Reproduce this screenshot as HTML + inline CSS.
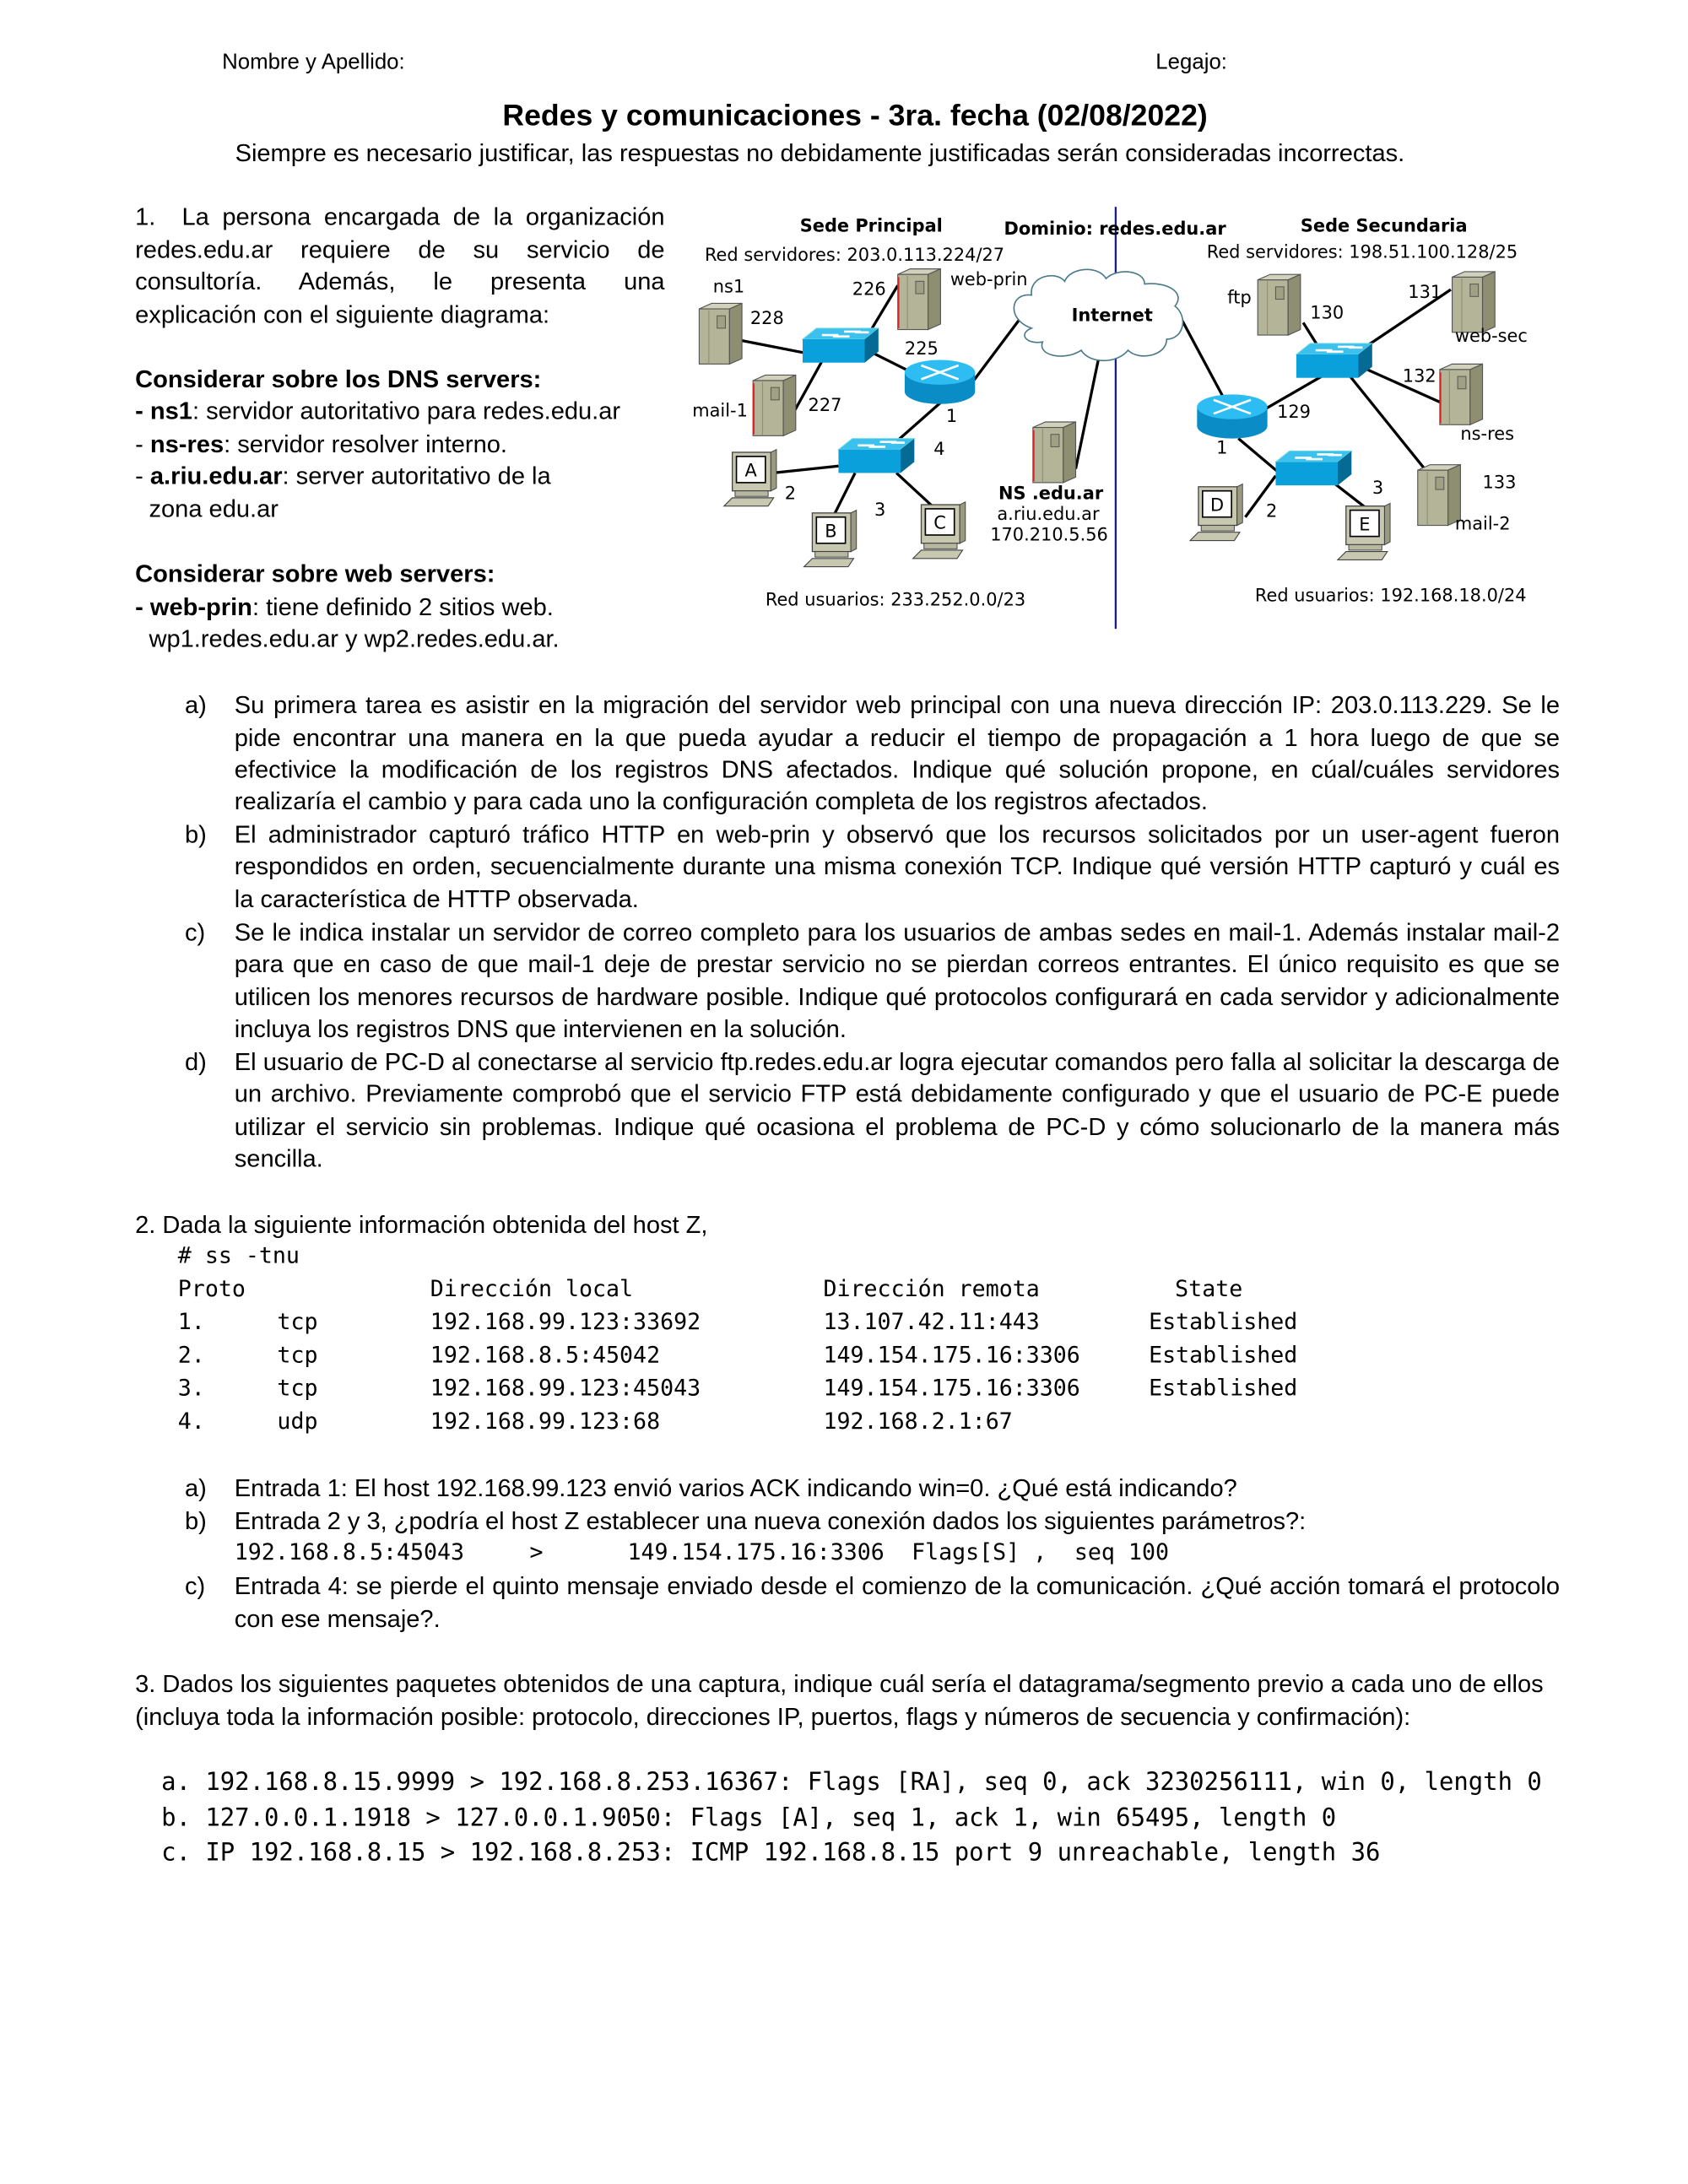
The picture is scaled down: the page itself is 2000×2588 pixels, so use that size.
<!DOCTYPE html>
<html><head><meta charset="utf-8"><style>
html,body{margin:0;padding:0;background:#fff;}
body{width:2000px;height:2588px;overflow:hidden;position:relative;}
#p{position:absolute;left:0;top:0;width:1224px;height:1584px;transform:scale(1.63399);transform-origin:0 0;font-family:"Liberation Sans",Arial,sans-serif;color:#000;}
.l{position:absolute;white-space:nowrap;font-size:17.8px;line-height:20px;}
.j{text-align:justify;text-align-last:justify;white-space:normal;height:20px;}
.m{font-family:"DejaVu Sans Mono","Liberation Mono",monospace;font-size:16.3px;}
.m2{font-family:"DejaVu Sans Mono","Liberation Mono",monospace;font-size:17.7px;}
svg text{font-family:"DejaVu Sans",sans-serif;font-size:12.8px;}
</style></head><body><div id="p">
<div class="l" style="left:161px;top:36px;font-size:15.8px">Nombre y Apellido:</div>
<div class="l" style="left:838px;top:36px;font-size:15.8px">Legajo:</div>
<div class="l" style="left:0;width:1240px;text-align:center;top:72px;font-size:21.8px;line-height:24px;font-weight:bold">Redes y comunicaciones - 3ra. fecha (02/08/2022)</div>
<div class="l" style="left:0;width:1189px;text-align:center;top:101px">Siempre es necesario justificar, las respuestas no debidamente justificadas serán consideradas incorrectas.</div>

<div class="l j" style="left:98px;width:384px;top:147px">1.&nbsp; La persona encargada de la organización</div>
<div class="l j" style="left:98px;width:384px;top:171px">redes.edu.ar requiere de su servicio de</div>
<div class="l j" style="left:98px;width:384px;top:194px">consultoría. Además, le presenta una</div>
<div class="l" style="left:98px;top:218px">explicación con el siguiente diagrama:</div>
<div class="l" style="left:98px;top:265px;font-weight:bold">Considerar sobre los DNS servers:</div>
<div class="l" style="left:98px;top:288px"><b>- ns1</b>: servidor autoritativo para redes.edu.ar</div>
<div class="l" style="left:98px;top:312px">- <b>ns-res</b>: servidor resolver interno.</div>
<div class="l" style="left:98px;top:335px">- <b>a.riu.edu.ar</b>: server autoritativo de la</div>
<div class="l" style="left:108px;top:359px">zona edu.ar</div>
<div class="l" style="left:98px;top:406px;font-weight:bold">Considerar sobre web servers:</div>
<div class="l" style="left:98px;top:430px"><b>- web-prin</b>: tiene definido 2 sitios web.</div>
<div class="l" style="left:108px;top:453px">wp1.redes.edu.ar y wp2.redes.edu.ar.</div>

<svg style="position:absolute;left:0;top:0" width="1224" height="600" viewBox="0 0 1224 600">
<defs>
<g id="srv"><polygon points="0,4 9,0 31,0 22,4" fill="#d2d2bc" stroke="#555" stroke-width="0.7"/><rect x="0" y="4" width="22" height="40" fill="#b4b498" stroke="#555" stroke-width="0.7"/><polygon points="22,4 31,0 31,40 22,44" fill="#8e8e70" stroke="#555" stroke-width="0.7"/><rect x="13" y="9" width="6" height="9" fill="#a0a084" stroke="#555" stroke-width="0.6"/><line x1="7" y1="5" x2="7" y2="44" stroke="#8a8a70" stroke-width="0.6"/></g>
<g id="srvr"><use href="#srv"/><line x1="0.5" y1="6" x2="0.5" y2="43" stroke="#d22" stroke-width="1.2"/></g>
<g id="pc"><rect x="6" y="0" width="28" height="28" fill="#c8c8b0" stroke="#444" stroke-width="0.8"/><polygon points="34,0 38,-2 38,26 34,28" fill="#9a9a80" stroke="#444" stroke-width="0.6"/><rect x="9" y="3" width="21" height="19" fill="#fff" stroke="#000" stroke-width="1"/><rect x="8" y="28" width="24" height="4" fill="#b8b8a0" stroke="#444" stroke-width="0.6"/><polygon points="0,39 6,33 36,33 32,39" fill="#c8c8b0" stroke="#444" stroke-width="0.7"/></g>
<g id="sw"><polygon points="0,8 10,0 55,0 45,8" fill="#3cc0ee" stroke="#7dd" stroke-width="0.6"/><rect x="0" y="8" width="45" height="17" fill="#0aa0dc"/><polygon points="45,8 55,0 55,17 45,25" fill="#066b94"/><g stroke="#fff" stroke-width="1.6"><line x1="14" y1="5" x2="26" y2="5"/><line x1="30" y1="2.5" x2="42" y2="2.5"/><line x1="22" y1="6" x2="34" y2="6"/><line x1="38" y1="3" x2="48" y2="3"/></g></g>
<g id="rt"><rect x="0" y="9" width="51" height="14" fill="#0a8cc6"/><ellipse cx="25.5" cy="23" rx="25.5" ry="9" fill="#0a8cc6"/><ellipse cx="25.5" cy="9" rx="25.5" ry="9" fill="#2dbdf2"/><g stroke="#fff" stroke-width="1.6"><line x1="12" y1="4" x2="39" y2="14"/><line x1="12" y1="14" x2="39" y2="4"/></g></g>
</defs>
<line x1="809" y1="150" x2="809" y2="456" stroke="#1a1aa0" stroke-width="1.4"/>
<g stroke="#000" stroke-width="2">
<line x1="538" y1="247" x2="584" y2="256"/><line x1="630" y1="242" x2="651" y2="207"/><line x1="596" y1="262" x2="575" y2="300"/><line x1="633" y1="256" x2="665" y2="272"/>
<line x1="682" y1="292" x2="648" y2="322"/><line x1="608" y1="338" x2="560" y2="343"/><line x1="620" y1="343" x2="600" y2="383"/><line x1="650" y1="343" x2="676" y2="367"/>
<line x1="706" y1="276" x2="742" y2="228"/><line x1="797" y1="258" x2="780" y2="340"/><line x1="857" y1="232" x2="887" y2="288"/>
<line x1="955" y1="250" x2="945" y2="234"/><line x1="985" y1="255" x2="1052" y2="210"/><line x1="978" y1="262" x2="1045" y2="292"/><line x1="975" y1="268" x2="1033" y2="340"/><line x1="960" y1="272" x2="915" y2="298"/>
<line x1="898" y1="318" x2="930" y2="345"/><line x1="925" y1="345" x2="903" y2="375"/><line x1="963" y1="347" x2="990" y2="368"/>
</g>
<path d="M748,238 C730,232 732,212 748,214 C746,200 766,196 772,204 C776,194 796,192 802,202 C810,194 830,196 830,206 C846,204 860,212 852,222 C862,230 858,246 846,246 C846,258 826,262 818,254 C810,264 790,264 784,254 C772,262 752,258 756,248 C744,250 738,242 748,238 Z" fill="#fff" stroke="#4a7a8a" stroke-width="1"/>
<use href="#srv" x="507" y="220"/><use href="#srvr" x="651" y="195"/><use href="#srvr" x="546" y="272"/><use href="#srvr" x="749" y="306"/>
<use href="#srv" x="912" y="199"/><use href="#srv" x="1053" y="197"/><use href="#srvr" x="1044" y="264"/><use href="#srv" x="1028" y="337"/>
<use href="#sw" x="582" y="238"/><use href="#sw" x="608" y="318"/><use href="#sw" x="940" y="249"/><use href="#sw" x="925" y="327"/>
<use href="#rt" x="656" y="261"/><use href="#rt" x="868" y="286"/>
<use href="#pc" x="525" y="328"/><use href="#pc" x="583" y="372"/><use href="#pc" x="662" y="366"/><use href="#pc" x="863" y="353"/><use href="#pc" x="970" y="367"/>
<g font-size="13" text-anchor="middle">
<text x="544.5" y="345.5">A</text><text x="602.5" y="389.5">B</text><text x="681.5" y="383.5">C</text><text x="882.5" y="370.5">D</text><text x="989.5" y="384.5">E</text>
</g>
<g font-weight="bold"><text x="580" y="168">Sede Principal</text><text x="728" y="170">Dominio: redes.edu.ar</text><text x="943" y="168">Sede Secundaria</text><text x="777" y="233">Internet</text><text x="724" y="362">NS .edu.ar</text></g>
<text x="511" y="189">Red servidores: 203.0.113.224/27</text><text x="875" y="187">Red servidores: 198.51.100.128/25</text>
<text x="517" y="212">ns1</text><text x="544" y="235">228</text><text x="618" y="214">226</text><text x="689" y="207">web-prin</text><text x="656" y="257">225</text>
<text x="502" y="302">mail-1</text><text x="586" y="298">227</text><text x="686" y="306">1</text><text x="677" y="330">4</text><text x="569" y="362">2</text><text x="634" y="374">3</text>
<text x="723" y="377">a.riu.edu.ar</text><text x="718" y="392">170.210.5.56</text>
<text x="890" y="220">ftp</text><text x="950" y="231">130</text><text x="1021" y="216">131</text><text x="1055" y="248">web-sec</text><text x="1017" y="277">132</text><text x="1059" y="319">ns-res</text>
<text x="926" y="303">129</text><text x="882" y="329">1</text><text x="918" y="375">2</text><text x="995" y="358">3</text><text x="1075" y="354">133</text><text x="1055" y="384">mail-2</text>
<text x="555" y="439">Red usuarios: 233.252.0.0/23</text><text x="910" y="436">Red usuarios: 192.168.18.0/24</text>
</svg>

<div class="l" style="left:134px;top:501px">a)</div>
<div class="l j" style="left:170px;width:961px;top:501px">Su primera tarea es asistir en la migración del servidor web principal con una nueva dirección IP: 203.0.113.229. Se le</div>
<div class="l j" style="left:170px;width:961px;top:525px">pide encontrar una manera en la que pueda ayudar a reducir el tiempo de propagación a 1 hora luego de que se</div>
<div class="l j" style="left:170px;width:961px;top:548px">efectivice la modificación de los registros DNS afectados. Indique qué solución propone, en cúal/cuáles servidores</div>
<div class="l" style="left:170px;top:571px">realizaría el cambio y para cada uno la configuración completa de los registros afectados.</div>
<div class="l" style="left:134px;top:595px">b)</div>
<div class="l j" style="left:170px;width:961px;top:595px">El administrador capturó tráfico HTTP en web-prin y observó que los recursos solicitados por un user-agent fueron</div>
<div class="l j" style="left:170px;width:961px;top:618px">respondidos en orden, secuencialmente durante una misma conexión TCP. Indique qué versión HTTP capturó y cuál es</div>
<div class="l" style="left:170px;top:642px">la característica de HTTP observada.</div>
<div class="l" style="left:134px;top:666px">c)</div>
<div class="l j" style="left:170px;width:961px;top:666px">Se le indica instalar un servidor de correo completo para los usuarios de ambas sedes en mail-1. Además instalar mail-2</div>
<div class="l j" style="left:170px;width:961px;top:689px">para que en caso de que mail-1 deje de prestar servicio no se pierdan correos entrantes. El único requisito es que se</div>
<div class="l j" style="left:170px;width:961px;top:713px">utilicen los menores recursos de hardware posible. Indique qué protocolos configurará en cada servidor y adicionalmente</div>
<div class="l" style="left:170px;top:736px">incluya los registros DNS que intervienen en la solución.</div>
<div class="l" style="left:134px;top:760px">d)</div>
<div class="l j" style="left:170px;width:961px;top:760px">El usuario de PC-D al conectarse al servicio ftp.redes.edu.ar logra ejecutar comandos pero falla al solicitar la descarga de</div>
<div class="l j" style="left:170px;width:961px;top:783px">un archivo. Previamente comprobó que el servicio FTP está debidamente configurado y que el usuario de PC-E puede</div>
<div class="l j" style="left:170px;width:961px;top:807px">utilizar el servicio sin problemas. Indique qué ocasiona el problema de PC-D y cómo solucionarlo de la manera más</div>
<div class="l" style="left:170px;top:830px">sencilla.</div>

<div class="l" style="left:98px;top:878px">2. Dada la siguiente información obtenida del host Z,</div>
<div class="l m" style="left:129px;top:901px"># ss -tnu</div>
<div class="l m" style="left:129px;top:925px">Proto</div><div class="l m" style="left:312px;top:925px">Dirección local</div><div class="l m" style="left:597px;top:925px">Dirección remota</div><div class="l m" style="left:852px;top:925px">State</div>
<div class="l m" style="left:129px;top:949px">1.</div><div class="l m" style="left:201px;top:949px">tcp</div><div class="l m" style="left:312px;top:949px">192.168.99.123:33692</div><div class="l m" style="left:597px;top:949px">13.107.42.11:443</div><div class="l m" style="left:833px;top:949px">Established</div>
<div class="l m" style="left:129px;top:973px">2.</div><div class="l m" style="left:201px;top:973px">tcp</div><div class="l m" style="left:312px;top:973px">192.168.8.5:45042</div><div class="l m" style="left:597px;top:973px">149.154.175.16:3306</div><div class="l m" style="left:833px;top:973px">Established</div>
<div class="l m" style="left:129px;top:997px">3.</div><div class="l m" style="left:201px;top:997px">tcp</div><div class="l m" style="left:312px;top:997px">192.168.99.123:45043</div><div class="l m" style="left:597px;top:997px">149.154.175.16:3306</div><div class="l m" style="left:833px;top:997px">Established</div>
<div class="l m" style="left:129px;top:1021px">4.</div><div class="l m" style="left:201px;top:1021px">udp</div><div class="l m" style="left:312px;top:1021px">192.168.99.123:68</div><div class="l m" style="left:597px;top:1021px">192.168.2.1:67</div>

<div class="l" style="left:134px;top:1069px">a)</div><div class="l" style="left:170px;top:1069px">Entrada 1: El host 192.168.99.123 envió varios ACK indicando win=0. ¿Qué está indicando?</div>
<div class="l" style="left:134px;top:1093px">b)</div><div class="l" style="left:170px;top:1093px">Entrada 2 y 3, ¿podría el host Z establecer una nueva conexión dados los siguientes parámetros?:</div>
<div class="l m" style="left:170px;top:1116px">192.168.8.5:45043</div><div class="l m" style="left:384px;top:1116px">&gt;</div><div class="l m" style="left:455px;top:1116px">149.154.175.16:3306</div><div class="l m" style="left:661px;top:1116px">Flags[S] ,</div><div class="l m" style="left:779px;top:1116px">seq 100</div>
<div class="l" style="left:134px;top:1140px">c)</div>
<div class="l j" style="left:170px;width:961px;top:1140px">Entrada 4: se pierde el quinto mensaje enviado desde el comienzo de la comunicación. ¿Qué acción tomará el protocolo</div>
<div class="l" style="left:170px;top:1164px">con ese mensaje?.</div>

<div class="l" style="left:98px;top:1211px">3. Dados los siguientes paquetes obtenidos de una captura, indique cuál sería el datagrama/segmento previo a cada uno de ellos</div>
<div class="l" style="left:98px;top:1235px">(incluya toda la información posible: protocolo, direcciones IP, puertos, flags y números de secuencia y confirmación):</div>
<div class="l m2" style="left:117px;top:1283px">a. 192.168.8.15.9999 &gt; 192.168.8.253.16367: Flags [RA], seq 0, ack 3230256111, win 0, length 0</div>
<div class="l m2" style="left:117px;top:1309px">b. 127.0.0.1.1918 &gt; 127.0.0.1.9050: Flags [A], seq 1, ack 1, win 65495, length 0</div>
<div class="l m2" style="left:117px;top:1334px">c. IP 192.168.8.15 &gt; 192.168.8.253: ICMP 192.168.8.15 port 9 unreachable, length 36</div>
</div></body></html>
